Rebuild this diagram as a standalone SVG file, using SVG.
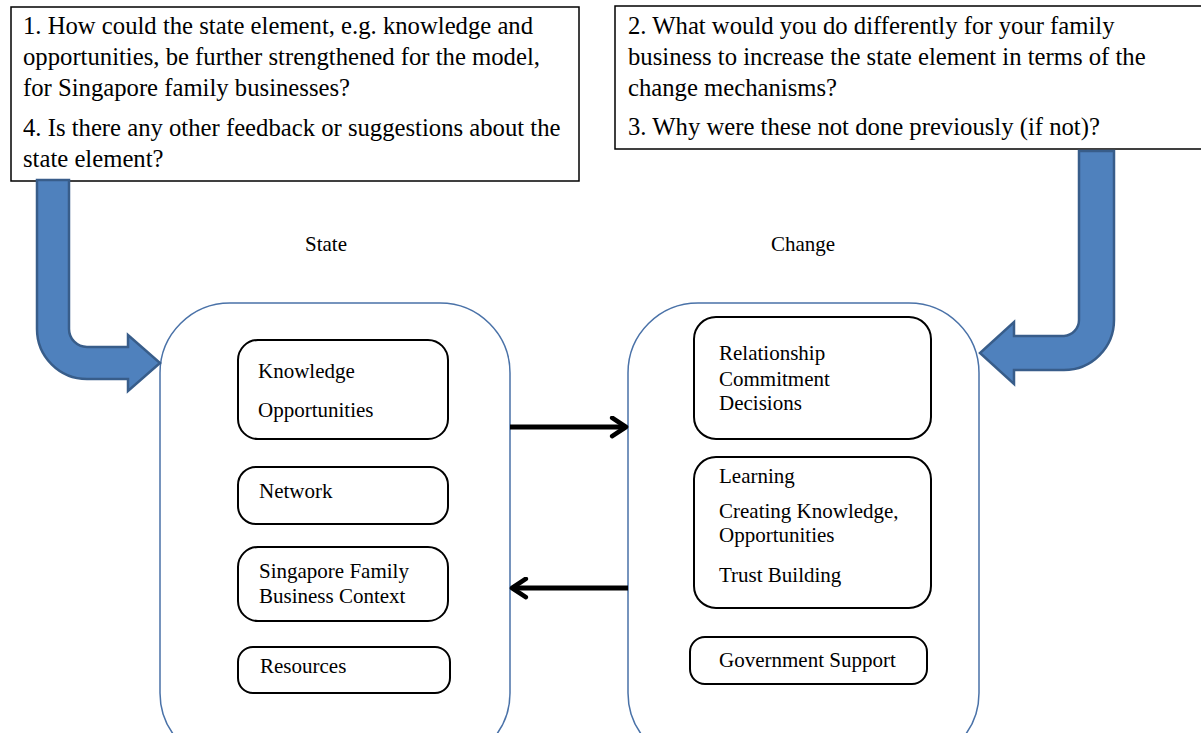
<svg xmlns="http://www.w3.org/2000/svg" width="1201" height="733" viewBox="0 0 1201 733">
  <style>
    .q { fill: #fff; stroke: #000; stroke-width: 1.5; }
    .qt { font-family: "Liberation Serif", "Times New Roman", serif; font-size: 24.7px; fill: #000; }
    .lbl { font-family: "Liberation Serif", "Times New Roman", serif; font-size: 21px; fill: #000; }
    .panel { fill: #fff; stroke: #4A72A8; stroke-width: 1.5; }
    .item { fill: #fff; stroke: #000; stroke-width: 2; }
    .bend { fill: #4F81BD; stroke: #385D8A; stroke-width: 2.5; stroke-linejoin: miter; }
    .flow { fill: none; stroke: #000; stroke-width: 5; }
  </style>
  <defs>
    <marker id="chev" viewBox="0 0 10 10" refX="8" refY="5" markerWidth="4.6" markerHeight="4.6" orient="auto" markerUnits="strokeWidth">
      <path d="M2,1 L8,5 L2,9" fill="none" stroke="#000" stroke-width="2" stroke-linecap="round" stroke-linejoin="round"/>
    </marker>
  </defs>
  <rect width="1201" height="733" fill="#fff"/>

  <!-- State panel -->
  <g id="state">
    <rect class="panel" x="160" y="303" width="350" height="460" rx="70" ry="70"/>
    <text class="lbl" x="326" y="251" text-anchor="middle">State</text>
    <g id="knowledge">
      <rect class="item" x="238" y="340" width="210" height="99" rx="20"/>
      <text class="lbl" x="258" y="378">Knowledge</text>
      <text class="lbl" x="258" y="417">Opportunities</text>
    </g>
    <g id="network">
      <rect class="item" x="238" y="467" width="210" height="57" rx="18"/>
      <text class="lbl" x="259" y="498">Network</text>
    </g>
    <g id="context">
      <rect class="item" x="238" y="547" width="210" height="74" rx="20"/>
      <text class="lbl" x="259" y="578">Singapore Family</text>
      <text class="lbl" x="259" y="603">Business Context</text>
    </g>
    <g id="resources">
      <rect class="item" x="238" y="647" width="212" height="46" rx="15"/>
      <text class="lbl" x="260" y="673">Resources</text>
    </g>
  </g>

  <!-- Change panel -->
  <g id="change">
    <rect class="panel" x="628" y="303" width="351" height="460" rx="70" ry="70"/>
    <text class="lbl" x="803" y="251" text-anchor="middle">Change</text>
    <g id="relationship">
      <rect class="item" x="694" y="317" width="237" height="122" rx="22"/>
      <text class="lbl" x="719" y="360">Relationship</text>
      <text class="lbl" x="719" y="386">Commitment</text>
      <text class="lbl" x="719" y="410">Decisions</text>
    </g>
    <g id="learning">
      <rect class="item" x="694" y="457" width="237" height="151" rx="22"/>
      <text class="lbl" x="719" y="483">Learning</text>
      <text class="lbl" x="719" y="518">Creating Knowledge,</text>
      <text class="lbl" x="719" y="542">Opportunities</text>
      <text class="lbl" x="719" y="582">Trust Building</text>
    </g>
    <g id="government">
      <rect class="item" x="690" y="637" width="237" height="47" rx="15"/>
      <text class="lbl" x="719" y="667">Government Support</text>
    </g>
  </g>

  <!-- Question boxes -->
  <g id="questions-state">
    <rect class="q" x="11" y="7" width="568" height="174"/>
    <text class="qt" x="23" y="34">1. How could the state element, e.g. knowledge and</text>
    <text class="qt" x="23" y="65">opportunities, be further strengthened for the model,</text>
    <text class="qt" x="23" y="96">for Singapore family businesses?</text>
    <text class="qt" x="23" y="136">4. Is there any other feedback or suggestions about the</text>
    <text class="qt" x="23" y="167">state element?</text>
  </g>
  <g id="questions-change">
    <rect class="q" x="615" y="6" width="590" height="143"/>
    <text class="qt" x="628" y="34">2. What would you do differently for your family</text>
    <text class="qt" x="628" y="65">business to increase the state element in terms of the</text>
    <text class="qt" x="628" y="96">change mechanisms?</text>
    <text class="qt" x="628" y="135">3. Why were these not done previously (if not)?</text>
  </g>

  <!-- Connectors -->
  <g id="connectors">
    <path class="bend" d="M37,180 H69 V329 A18,18 0 0 0 87,347 H128 V335 L160,363 L128,391 V379 H87 A50,50 0 0 1 37,329 Z"/>
    <path class="bend" d="M1079,151 H1114 V320 A50,50 0 0 1 1064,370 H1014 V384 L980,353 L1014,322 V336 H1064 A16,16 0 0 0 1079,320 Z"/>
    <line class="flow" x1="510" y1="427" x2="626" y2="427" marker-end="url(#chev)"/>
    <line class="flow" x1="628" y1="588" x2="512" y2="588" marker-end="url(#chev)"/>
  </g>
</svg>
